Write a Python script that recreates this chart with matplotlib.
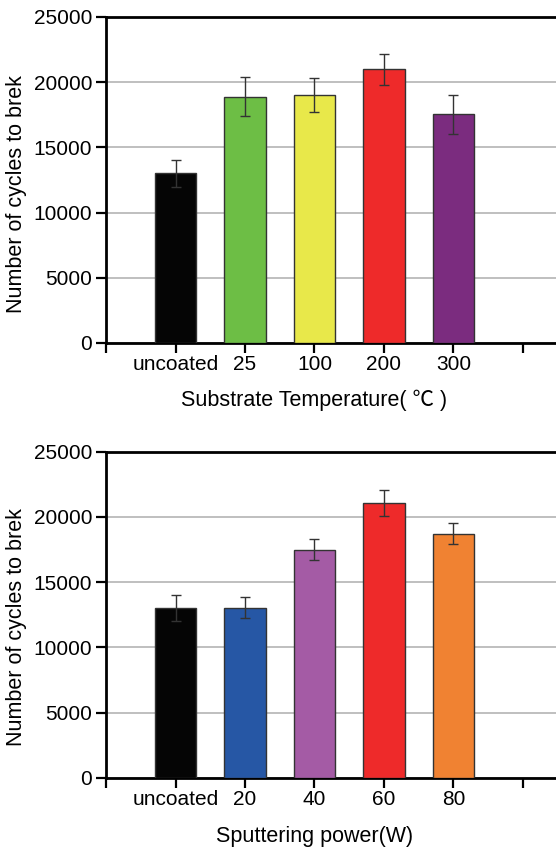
import matplotlib
matplotlib.use("Agg")
import matplotlib.pyplot as plt

plt.rcParams['font.family'] = ['Liberation Sans', 'Noto Sans CJK SC', 'DejaVu Sans']

# top panel: substrate temperature
temp_labels = ["uncoated", "25", "100", "200", "300"]
temp_values = [13000, 18900, 19000, 21000, 17550]
temp_errors = [1000, 1500, 1300, 1200, 1500]
temp_colors = ["#050505", "#6dbe45", "#e8e84a", "#ee2a2a", "#7b2c7f"]

# bottom panel: sputtering power
power_labels = ["uncoated", "20", "40", "60", "80"]
power_values = [13000, 13050, 17480, 21050, 18720]
power_errors = [1000, 780, 800, 1000, 800]
power_colors = ["#050505", "#2657a5", "#a45ba5", "#ee2a2a", "#f08232"]

yticks = [0, 5000, 10000, 15000, 20000, 25000]

W, H = 556, 850
fig = plt.figure(figsize=(W / 100, H / 100), dpi=100)

unit = 69.5          # px per category
xmax = 6.6
left = 106


def draw_panel(rect, labels, values, errors, colors, xlabel, ylab_y, xlab_y):
    ax = fig.add_axes(rect)
    xs = list(range(1, len(values) + 1))
    ax.bar(xs, values, width=0.6, color=colors, edgecolor="#333333",
           linewidth=1.0, zorder=3)
    ax.errorbar(xs, values, yerr=errors, fmt="none", ecolor="#333333",
                elinewidth=1.0, capsize=3.5, capthick=1.0, zorder=4)
    ax.set_xlim(0, xmax)
    ax.set_ylim(0, 25000)
    ax.set_yticks(yticks)
    ax.set_yticklabels([str(t) for t in yticks])
    ax.set_xticks(range(0, 7))
    ax.set_xticklabels([""] + labels + [""])
    ax.yaxis.grid(True, color="#b4b4b4", linewidth=1.2, zorder=0)
    ax.set_axisbelow(True)
    for s in ["left", "bottom", "top"]:
        ax.spines[s].set_linewidth(2.0)
        ax.spines[s].set_color("black")
    ax.spines["right"].set_visible(False)
    ax.tick_params(axis="both", direction="out", length=7, width=1.6,
                   labelsize=15, colors="black", pad=3)
    ax.tick_params(axis="x", pad=2)
    ax.set_ylabel("Number of cycles to brek", fontsize=15.5)
    ax.set_xlabel(xlabel, fontsize=15.5)
    ax.yaxis.set_label_coords(-0.172, ylab_y)
    ax.xaxis.set_label_coords(3 / xmax, xlab_y)
    return ax


aw = xmax * unit / W
ah = 326 / H

draw_panel([left / W, 1 - 343 / H, aw, ah], temp_labels, temp_values,
           temp_errors, temp_colors, "Substrate Temperature( \u2103 )", 0.457, -0.142)
draw_panel([left / W, 1 - 777.7 / H, aw, ah], power_labels, power_values,
           power_errors, power_colors, "Sputtering power(W)", 0.461, -0.148)

fig.savefig("out.png", dpi=100)
